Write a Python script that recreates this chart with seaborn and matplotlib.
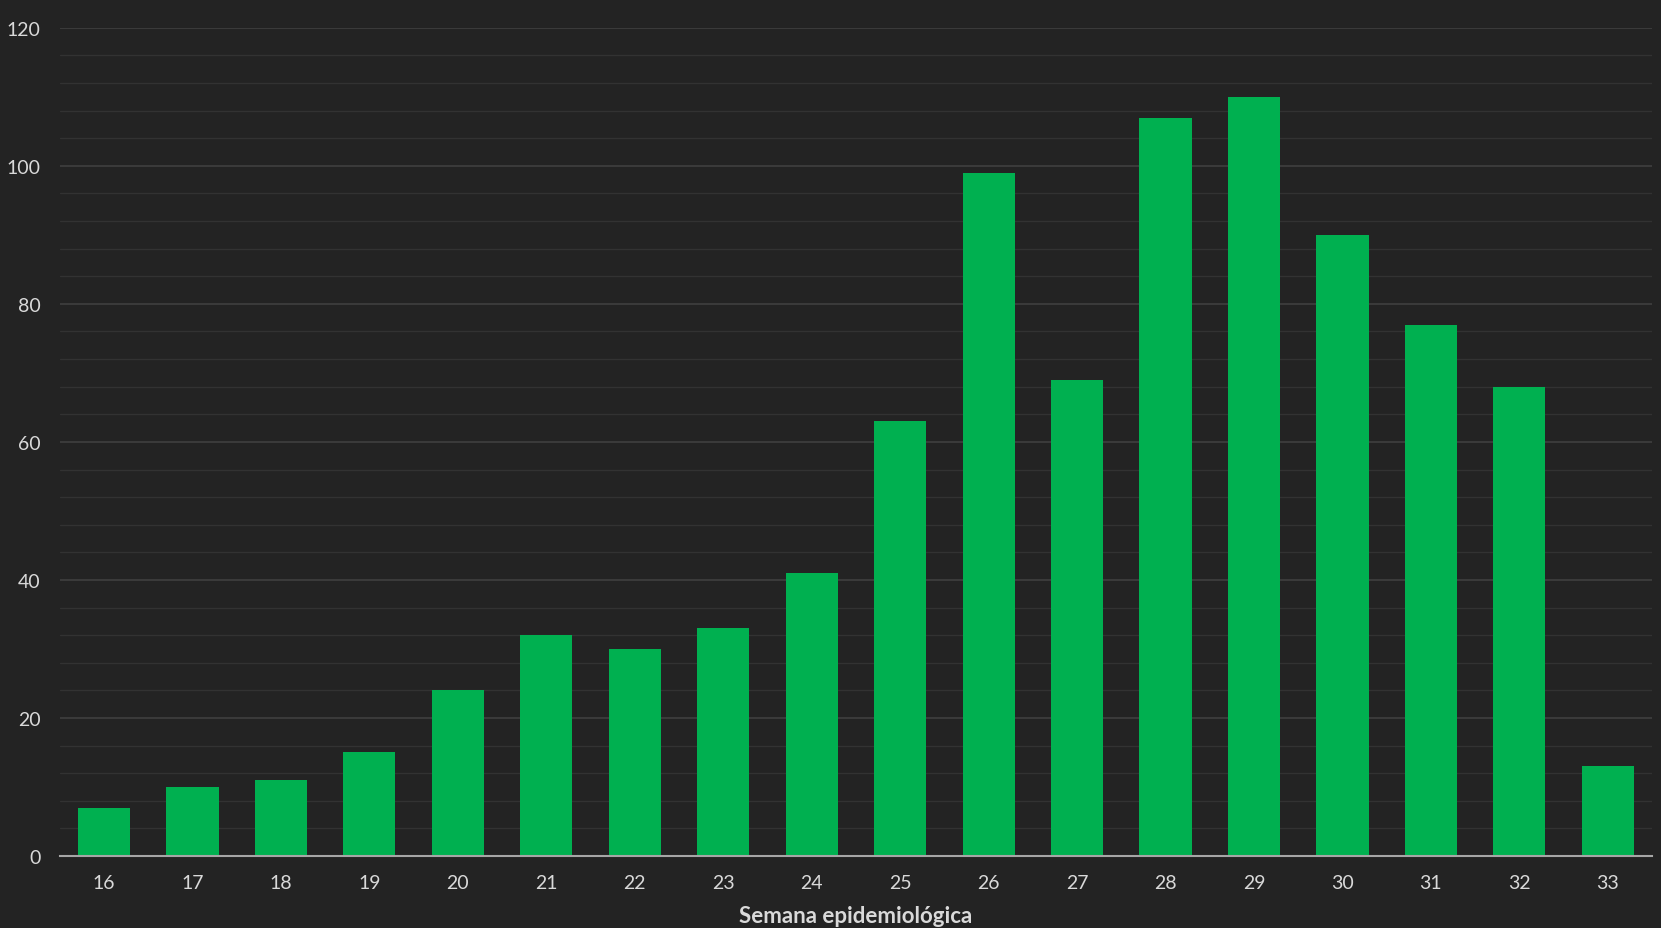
import numpy as np
import pandas as pd
import seaborn as sns
import matplotlib.pyplot as plt
from matplotlib.ticker import MultipleLocator

# epidemiological weeks and case counts
weeks = [str(w) for w in range(16, 34)]
cases = [7, 10, 11, 15, 24, 32, 30, 33, 41, 63, 99, 69, 107, 110, 90, 77, 68, 13]

df = pd.DataFrame({'Semana': weeks, 'Casos': cases})

bg = '#232323'
text_col = '#d9d9d9'

sns.set_theme(style='dark')
plt.rcParams['font.family'] = ['Lato', 'DejaVu Sans']

fig = plt.figure(figsize=(16.61, 9.29), dpi=100, facecolor=bg)
ax = fig.add_axes([0.036, 0.0775, 0.9586, 0.8915])
ax.set_facecolor(bg)

sns.barplot(data=df, x='Semana', y='Casos', color='#00b050', width=0.59,
            saturation=1, linewidth=0, edgecolor='none', ax=ax, zorder=3)

ax.set_ylim(0, 120)
ax.set_xlim(-0.5, len(weeks) - 0.5)
ax.yaxis.set_major_locator(MultipleLocator(20))
ax.yaxis.set_minor_locator(MultipleLocator(4))
ax.grid(axis='y', which='major', color='#3d3d3d', linewidth=1.3, zorder=0)
ax.grid(axis='y', which='minor', color='#323232', linewidth=1.0, zorder=0)
ax.grid(axis='x', visible=False)

for s in ['top', 'right', 'left']:
    ax.spines[s].set_visible(False)
ax.spines['bottom'].set_color('#a6a6a6')
ax.spines['bottom'].set_linewidth(1.5)
ax.spines['bottom'].set_zorder(4)

ax.tick_params(axis='both', which='both', length=0, colors=text_col, labelsize=14)
ax.tick_params(axis='x', pad=13)
ax.tick_params(axis='y', pad=14)

ax.set_ylabel('')
ax.set_xlabel('Semana epidemiológica', color=text_col, fontsize=16,
              fontweight='bold', labelpad=10)

fig.savefig('out.png', dpi=100, facecolor=bg)
